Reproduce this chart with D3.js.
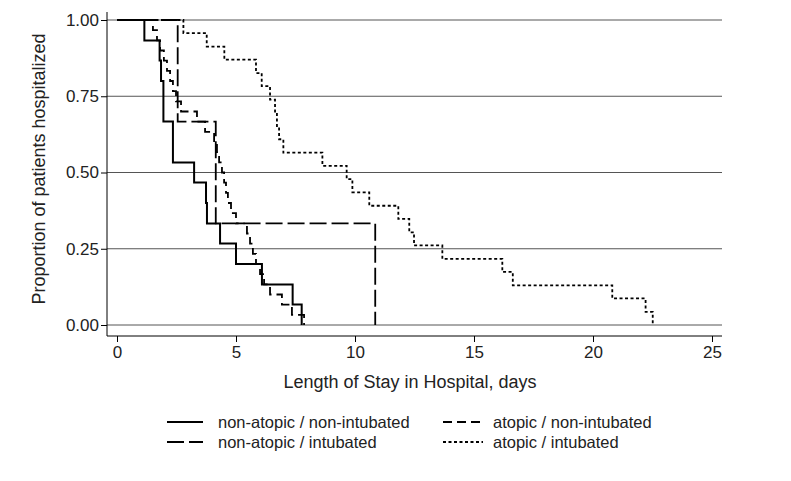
<!DOCTYPE html>
<html>
<head>
<meta charset="utf-8">
<script src="https://cdn.jsdelivr.net/npm/d3@7"></script>
<style>
  body { margin: 0; background: #fff; }
  svg { font-family: "Liberation Sans", Arial, sans-serif; }
</style>
</head>
<body>
<div id="chart"></div>
<script>
// Kaplan-Meier style curves
var nonAtopicNonIntTimes = [0, 1.15, 1.79, 1.85, 1.95, 2.35, 3.24, 3.74, 3.78, 4.33, 5.0, 6.09, 7.38, 7.76];
var nonAtopicNonIntProp  = [1, 0.933, 0.867, 0.8, 0.667, 0.533, 0.467, 0.4, 0.333, 0.267, 0.2, 0.133, 0.067, 0];

var nonAtopicIntTimes = [0, 2.55, 4.15, 10.85];
var nonAtopicIntProp  = [1, 0.667, 0.333, 0];

var atopicNonIntTimes = [0, 1.51, 1.68, 1.81, 1.97, 2.10, 2.23, 2.35, 2.48, 2.69, 3.36, 3.70, 4.08, 4.20, 4.29,
                         4.41, 4.50, 4.58, 4.66, 4.79, 5.00, 5.46, 5.59, 5.71, 5.84, 6.01, 6.18, 6.43, 6.93, 7.35, 7.86];
var atopicNonIntProp  = [1, 0.967, 0.933, 0.9, 0.867, 0.833, 0.8, 0.767, 0.733, 0.7, 0.667, 0.633, 0.6, 0.567, 0.533,
                         0.5, 0.467, 0.433, 0.4, 0.367, 0.333, 0.3, 0.267, 0.233, 0.2, 0.167, 0.133, 0.1, 0.067, 0.033, 0];

var atopicIntTimes = [0, 2.79, 3.77, 4.51, 5.84, 6.08, 6.43, 6.64, 6.72, 6.81, 6.99, 8.63, 9.65, 9.89, 10.60,
                      11.82, 12.28, 12.48, 13.67, 16.19, 16.63, 20.81, 22.21, 22.51];
var atopicIntProp  = [1, 0.957, 0.913, 0.870, 0.826, 0.783, 0.739, 0.696, 0.652, 0.609, 0.565, 0.522, 0.478, 0.435, 0.391,
                      0.348, 0.304, 0.261, 0.217, 0.174, 0.130, 0.087, 0.043, 0];

var xTicks = [0, 5, 10, 15, 20, 25];
var yTicks = [0, 0.25, 0.5, 0.75, 1];

var seriesNames = ["non-atopic / non-intubated", "non-atopic / intubated", "atopic / non-intubated", "atopic / intubated"];

var width = 791, height = 481;

var svg = d3.select("#chart")
    .append("svg")
    .attr("width", width)
    .attr("height", height);

var x = d3.scaleLinear().domain([0, 25]).range([117, 712]);
var y = d3.scaleLinear().domain([0, 1]).range([325, 20]);

var plotLeft = 107, plotRight = 722, plotBottom = 336;

// grid lines
svg.append("g").selectAll("line")
    .data(yTicks)
    .enter()
    .append("line")
    .attr("x1", plotLeft)
    .attr("x2", plotRight)
    .attr("y1", d => y(d))
    .attr("y2", d => y(d))
    .attr("stroke", "#555")
    .attr("stroke-width", 1);

// y axis
var yAxis = svg.append("g")
    .attr("transform", `translate(${plotLeft},0)`)
    .call(d3.axisLeft(y).tickValues(yTicks).tickFormat(d3.format(".2f")).tickSize(6).tickSizeOuter(0));
yAxis.select(".domain").remove();
svg.append("line")
    .attr("x1", plotLeft).attr("x2", plotLeft)
    .attr("y1", 12).attr("y2", plotBottom)
    .attr("stroke", "#000");

// x axis
var xAxis = svg.append("g")
    .attr("transform", `translate(0,${plotBottom})`)
    .call(d3.axisBottom(x).tickValues(xTicks).tickSize(6).tickSizeOuter(0));
xAxis.select(".domain").remove();
svg.append("line")
    .attr("x1", plotLeft).attr("x2", plotRight)
    .attr("y1", plotBottom).attr("y2", plotBottom)
    .attr("stroke", "#000");

svg.selectAll(".tick text")
    .style("font-size", "17px")
    .style("font-family", "Liberation Sans, Arial, sans-serif")
    .attr("fill", "#222");
yAxis.selectAll(".tick text").attr("x", -8);
xAxis.selectAll(".tick text").attr("y", 10);

// axis titles
svg.append("text")
    .attr("transform", `translate(${410}, ${388})`)
    .style("text-anchor", "middle")
    .style("font-size", "18px")
    .attr("fill", "#222")
    .text("Length of Stay in Hospital, days");

svg.append("text")
    .attr("transform", `translate(45, ${169}) rotate(-90)`)
    .style("text-anchor", "middle")
    .style("font-size", "18px")
    .attr("fill", "#222")
    .text("Proportion of patients hospitalized");

// curves
var series = [
    { name: seriesNames[0], t: nonAtopicNonIntTimes, p: nonAtopicNonIntProp, dash: null, w: 2 },
    { name: seriesNames[1], t: nonAtopicIntTimes, p: nonAtopicIntProp, dash: "17,5", w: 1.8 },
    { name: seriesNames[2], t: atopicNonIntTimes, p: atopicNonIntProp, dash: "9,5", w: 1.8 },
    { name: seriesNames[3], t: atopicIntTimes, p: atopicIntProp, dash: "3,2.5", w: 1.8 }
];

var line = d3.line()
    .x(d => x(d[0]))
    .y(d => y(d[1]))
    .curve(d3.curveStepAfter);

svg.append("g").selectAll("path")
    .data(series)
    .enter()
    .append("path")
    .attr("d", d => line(d.t.map((t, i) => [t, d.p[i]])))
    .attr("fill", "none")
    .attr("stroke", "#000")
    .attr("stroke-width", d => d.w)
    .attr("stroke-dasharray", d => d.dash);

// legend
var legendPos = [
    { lx: 167, tx: 218, y: 422, len: 36 },
    { lx: 167, tx: 218, y: 442, len: 36 },
    { lx: 443, tx: 493, y: 422, len: 40 },
    { lx: 443, tx: 493, y: 442, len: 40 }
];

var legend = svg.append("g").selectAll("g")
    .data(series)
    .enter()
    .append("g");

legend.append("line")
    .attr("x1", (d, i) => legendPos[i].lx)
    .attr("x2", (d, i) => legendPos[i].lx + legendPos[i].len)
    .attr("y1", (d, i) => legendPos[i].y)
    .attr("y2", (d, i) => legendPos[i].y)
    .attr("stroke", "#000")
    .attr("stroke-width", d => d.w)
    .attr("stroke-dasharray", d => d.dash);

legend.append("text")
    .attr("x", (d, i) => legendPos[i].tx)
    .attr("y", (d, i) => legendPos[i].y)
    .attr("dy", "0.35em")
    .style("font-size", "16.5px")
    .attr("fill", "#222")
    .text(d => d.name);
</script>
</body>
</html>
